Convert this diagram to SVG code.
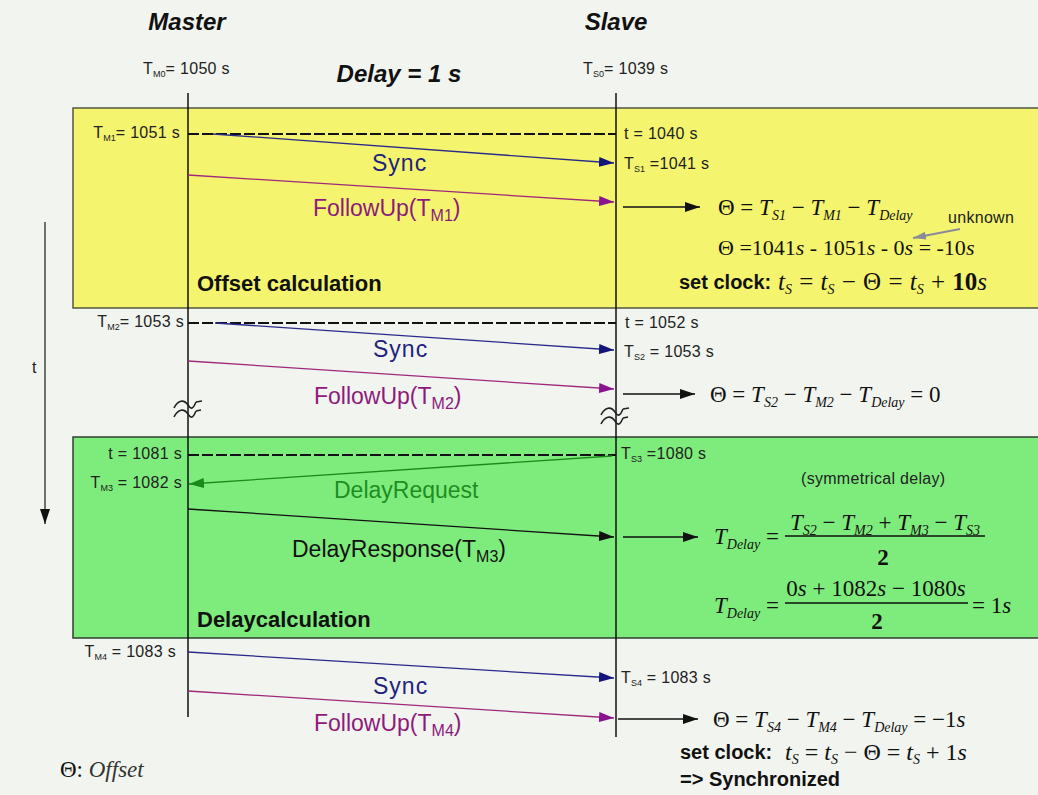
<svg xmlns="http://www.w3.org/2000/svg" width="1038" height="795" viewBox="0 0 1038 795">
<style>
.lbl{font-family:"Liberation Sans",Arial,sans-serif;font-size:16px;fill:#222;letter-spacing:0.3px}
.sb{font-size:9px;letter-spacing:0}
.msg{font-family:"Liberation Sans",Arial,sans-serif;font-size:23px}
.hd{font-family:"Liberation Sans",Arial,sans-serif;font-weight:bold;font-style:italic;font-size:24px;fill:#111}
.bold{font-family:"Liberation Sans",Arial,sans-serif;font-weight:bold;font-size:22px;fill:#111}
.sc{font-family:"Liberation Sans",Arial,sans-serif;font-weight:bold;font-size:20px;fill:#111}
.math{font-family:"Liberation Serif","Times New Roman",serif;font-size:23px;fill:#111}
.it{font-style:italic}
.ms{font-size:14px;font-style:italic}
.life{stroke:#111;stroke-width:1.5}
.dash{stroke:#111;stroke-width:2;stroke-dasharray:11 3;fill:none}
.brk{stroke:#222;stroke-width:1.6;fill:none}
</style>
<defs>
<marker id="aNavy" markerUnits="userSpaceOnUse" markerWidth="16" markerHeight="12" refX="15" refY="6" orient="auto"><path d="M0,1 L15,6 L0,11 z" fill="#14147a"/></marker>
<marker id="aPurp" markerUnits="userSpaceOnUse" markerWidth="16" markerHeight="12" refX="15" refY="6" orient="auto"><path d="M0,1 L15,6 L0,11 z" fill="#8a1490"/></marker>
<marker id="aGreen" markerUnits="userSpaceOnUse" markerWidth="16" markerHeight="12" refX="15" refY="6" orient="auto"><path d="M0,1 L15,6 L0,11 z" fill="#1a8a1a"/></marker>
<marker id="aBlack" markerUnits="userSpaceOnUse" markerWidth="16" markerHeight="12" refX="15" refY="6" orient="auto"><path d="M0,1 L15,6 L0,11 z" fill="#111"/></marker>
<marker id="aGray" markerUnits="userSpaceOnUse" markerWidth="14" markerHeight="10" refX="13" refY="5" orient="auto"><path d="M0,1 L13,5 L0,9 z" fill="#8a8a9a"/></marker>
</defs>

<rect x="0" y="0" width="1038" height="795" fill="#f1f4ef"/>

<g id="sections">
<rect id="offset-section" x="73" y="108" width="968" height="200" fill="#f4f46e" stroke="#55553f" stroke-width="1.5"/>
<rect id="delay-section" x="73" y="437" width="968" height="201" fill="#7eec7c" stroke="#2f3f2f" stroke-width="1.5"/>
</g>

<g id="header">
<text class="hd" x="187" y="30" text-anchor="middle">Master</text>
<text class="hd" x="616" y="30" text-anchor="middle">Slave</text>
<text class="hd" x="399" y="82" text-anchor="middle">Delay = 1 s</text>
<text class="lbl" x="143" y="74">T<tspan class="sb" dy="3">M0</tspan><tspan dy="-3">= 1050 s</tspan></text>
<text class="lbl" x="583" y="74">T<tspan class="sb" dy="3">S0</tspan><tspan dy="-3">= 1039 s</tspan></text>
</g>

<g id="master">
<line class="life" x1="188" y1="93" x2="188" y2="717"/>
</g>
<g id="slave">
<line class="life" x1="616" y1="93" x2="616" y2="737"/>
</g>

<g id="time-axis">
<line x1="45" y1="222" x2="45" y2="524" stroke="#444" stroke-width="1.5" marker-end="url(#aBlack)"/>
<text class="lbl" x="32" y="373">t</text>
</g>

<g id="breaks">
<path class="brk" d="M174,408 C178,400 184,399 188,405 C191,410 193,409 196,402 M196,402 L202,401 M174,417 C178,409 184,408 188,414 C191,419 193,418 196,411 M196,411 L201,410"/>
<path class="brk" d="M601,415 C605,407 611,406 615,412 C618,417 620,416 623,409 M623,409 L629,408 M601,424 C605,416 611,415 615,421 C618,426 620,425 623,418 M623,418 L628,417"/>
</g>

<g id="connectors">
<line class="dash" x1="188" y1="134" x2="616" y2="134"/>
<line x1="213" y1="134" x2="614" y2="163" stroke="#2a2a8a" stroke-width="1.3" marker-end="url(#aNavy)"/>
<line x1="188" y1="175" x2="614" y2="202" stroke="#a0287a" stroke-width="1.3" marker-end="url(#aPurp)"/>
<line x1="623" y1="207" x2="700" y2="207" stroke="#111" stroke-width="1.3" marker-end="url(#aBlack)"/>
<line x1="960" y1="229" x2="913" y2="238" stroke="#8a8a9a" stroke-width="2" marker-end="url(#aGray)"/>

<line class="dash" x1="188" y1="323" x2="616" y2="323"/>
<line x1="215" y1="323" x2="614" y2="350" stroke="#2a2a8a" stroke-width="1.3" marker-end="url(#aNavy)"/>
<line x1="188" y1="361" x2="614" y2="389" stroke="#a0287a" stroke-width="1.3" marker-end="url(#aPurp)"/>
<line x1="623" y1="394" x2="695" y2="394" stroke="#111" stroke-width="1.3" marker-end="url(#aBlack)"/>

<line class="dash" x1="188" y1="455" x2="616" y2="455"/>
<line x1="612" y1="456" x2="189" y2="484" stroke="#1a8a1a" stroke-width="1.3" marker-end="url(#aGreen)"/>
<line x1="188" y1="509" x2="614" y2="537" stroke="#111" stroke-width="1.3" marker-end="url(#aBlack)"/>
<line x1="623" y1="537" x2="698" y2="537" stroke="#111" stroke-width="1.3" marker-end="url(#aBlack)"/>

<line x1="188" y1="652" x2="614" y2="678" stroke="#2a2a8a" stroke-width="1.3" marker-end="url(#aNavy)"/>
<line x1="188" y1="691" x2="614" y2="718" stroke="#a0287a" stroke-width="1.3" marker-end="url(#aPurp)"/>
<line x1="618" y1="719" x2="698" y2="719" stroke="#111" stroke-width="1.3" marker-end="url(#aBlack)"/>
</g>

<g id="offset-calc">
<text class="lbl" x="180" y="138" text-anchor="end">T<tspan class="sb" dy="3">M1</tspan><tspan dy="-3">= 1051 s</tspan></text>
<text class="lbl" x="624" y="139">t = 1040 s</text>
<text class="lbl" x="624" y="169">T<tspan class="sb" dy="3">S1</tspan><tspan dy="-3"> =1041 s</tspan></text>
<text class="msg" x="372" y="171" fill="#22227e" letter-spacing="1">Sync</text>
<text class="msg" x="313" y="216" fill="#8e1a7c">FollowUp(T<tspan font-size="16" dy="5">M1</tspan><tspan dy="-5">)</tspan></text>
<text class="math" x="718" y="215">Θ = <tspan class="it">T</tspan><tspan class="ms" dy="5">S1</tspan><tspan dy="-5"> − </tspan><tspan class="it">T</tspan><tspan class="ms" dy="5">M1</tspan><tspan dy="-5"> − </tspan><tspan class="it">T</tspan><tspan class="ms" dy="5">Delay</tspan></text>
<text class="lbl" x="948" y="223" letter-spacing="0">unknown</text>
<text class="math" x="718" y="255" style="font-size:22px">Θ =1041<tspan class="it">s</tspan> - 1051<tspan class="it">s</tspan> - 0<tspan class="it">s</tspan> =  -10<tspan class="it">s</tspan></text>
<text class="sc" x="679" y="289">set clock:</text>
<text class="math" x="778" y="290" style="font-size:25px" word-spacing="1"><tspan class="it">t</tspan><tspan class="ms" dy="4">S</tspan><tspan dy="-4"> = </tspan><tspan class="it">t</tspan><tspan class="ms" dy="4">S</tspan><tspan dy="-4"> − Θ = </tspan><tspan class="it">t</tspan><tspan class="ms" dy="4">S</tspan><tspan dy="-4"> + </tspan><tspan font-weight="bold">10</tspan><tspan class="it">s</tspan></text>
<text class="bold" x="197" y="291">Offset calculation</text>
</g>

<g id="second-sync">
<text class="lbl" x="184" y="327" text-anchor="end">T<tspan class="sb" dy="3">M2</tspan><tspan dy="-3">= 1053 s</tspan></text>
<text class="lbl" x="625" y="328">t = 1052 s</text>
<text class="lbl" x="624" y="357">T<tspan class="sb" dy="3">S2</tspan><tspan dy="-3"> = 1053 s</tspan></text>
<text class="msg" x="373" y="357" fill="#22227e" letter-spacing="1">Sync</text>
<text class="msg" x="314" y="404" fill="#8e1a7c">FollowUp(T<tspan font-size="16" dy="5">M2</tspan><tspan dy="-5">)</tspan></text>
<text class="math" x="710" y="402">Θ = <tspan class="it">T</tspan><tspan class="ms" dy="5">S2</tspan><tspan dy="-5"> − </tspan><tspan class="it">T</tspan><tspan class="ms" dy="5">M2</tspan><tspan dy="-5"> − </tspan><tspan class="it">T</tspan><tspan class="ms" dy="5">Delay</tspan><tspan dy="-5"> = 0</tspan></text>
</g>

<g id="delay-calc">
<text class="lbl" x="182" y="459" text-anchor="end">t = 1081 s</text>
<text class="lbl" x="182" y="488" text-anchor="end">T<tspan class="sb" dy="3">M3</tspan><tspan dy="-3"> = 1082 s</tspan></text>
<text class="lbl" x="621" y="459">T<tspan class="sb" dy="3">S3</tspan><tspan dy="-3"> =1080 s</tspan></text>
<text class="msg" x="334" y="498" fill="#1e8e22">DelayRequest</text>
<text class="msg" x="292" y="557" fill="#111">DelayResponse(T<tspan font-size="16" dy="5">M3</tspan><tspan dy="-5">)</tspan></text>
<text class="lbl" x="801" y="484" letter-spacing="0">(symmetrical delay)</text>
<text class="math" x="714" y="544"><tspan class="it">T</tspan><tspan class="ms" dy="5">Delay</tspan><tspan dy="-5"> =</tspan></text>
<text class="math" x="885" y="530" text-anchor="middle"><tspan class="it">T</tspan><tspan class="ms" dy="5">S2</tspan><tspan dy="-5"> − </tspan><tspan class="it">T</tspan><tspan class="ms" dy="5">M2</tspan><tspan dy="-5"> + </tspan><tspan class="it">T</tspan><tspan class="ms" dy="5">M3</tspan><tspan dy="-5"> − </tspan><tspan class="it">T</tspan><tspan class="ms" dy="5">S3</tspan></text>
<line x1="785" y1="536" x2="985" y2="536" stroke="#111" stroke-width="1.3"/>
<text class="math" x="883" y="565" text-anchor="middle" font-weight="bold">2</text>
<text class="math" x="714" y="613"><tspan class="it">T</tspan><tspan class="ms" dy="5">Delay</tspan><tspan dy="-5"> =</tspan></text>
<text class="math" x="876" y="596" text-anchor="middle">0<tspan class="it">s</tspan> + 1082<tspan class="it">s</tspan> − 1080<tspan class="it">s</tspan></text>
<line x1="785" y1="603" x2="968" y2="603" stroke="#111" stroke-width="1.3"/>
<text class="math" x="877" y="629" text-anchor="middle" font-weight="bold">2</text>
<text class="math" x="972" y="613">= 1<tspan class="it">s</tspan></text>
<text class="bold" x="197" y="627">Delaycalculation</text>
</g>

<g id="final-sync">
<text class="lbl" x="176" y="657" text-anchor="end">T<tspan class="sb" dy="3">M4</tspan><tspan dy="-3"> = 1083 s</tspan></text>
<text class="lbl" x="621" y="683">T<tspan class="sb" dy="3">S4</tspan><tspan dy="-3"> = 1083 s</tspan></text>
<text class="msg" x="373" y="694" fill="#22227e" letter-spacing="1">Sync</text>
<text class="msg" x="314" y="731" fill="#8e1a7c">FollowUp(T<tspan font-size="16" dy="5">M4</tspan><tspan dy="-5">)</tspan></text>
<text class="math" x="713" y="727">Θ = <tspan class="it">T</tspan><tspan class="ms" dy="5">S4</tspan><tspan dy="-5"> − </tspan><tspan class="it">T</tspan><tspan class="ms" dy="5">M4</tspan><tspan dy="-5"> − </tspan><tspan class="it">T</tspan><tspan class="ms" dy="5">Delay</tspan><tspan dy="-5"> = −1</tspan><tspan class="it">s</tspan></text>
<text class="sc" x="680" y="759">set clock:</text>
<text class="math" x="785" y="760" style="font-size:24px"><tspan class="it">t</tspan><tspan class="ms" dy="4">S</tspan><tspan dy="-4"> = </tspan><tspan class="it">t</tspan><tspan class="ms" dy="4">S</tspan><tspan dy="-4"> − Θ = </tspan><tspan class="it">t</tspan><tspan class="ms" dy="4">S</tspan><tspan dy="-4"> + 1</tspan><tspan class="it">s</tspan></text>
<text class="sc" x="680" y="786">=&gt; Synchronized</text>
</g>

<g id="legend">
<text class="math" x="60" y="777">Θ: <tspan class="it" fill="#333">Offset</tspan></text>
</g>
</svg>
